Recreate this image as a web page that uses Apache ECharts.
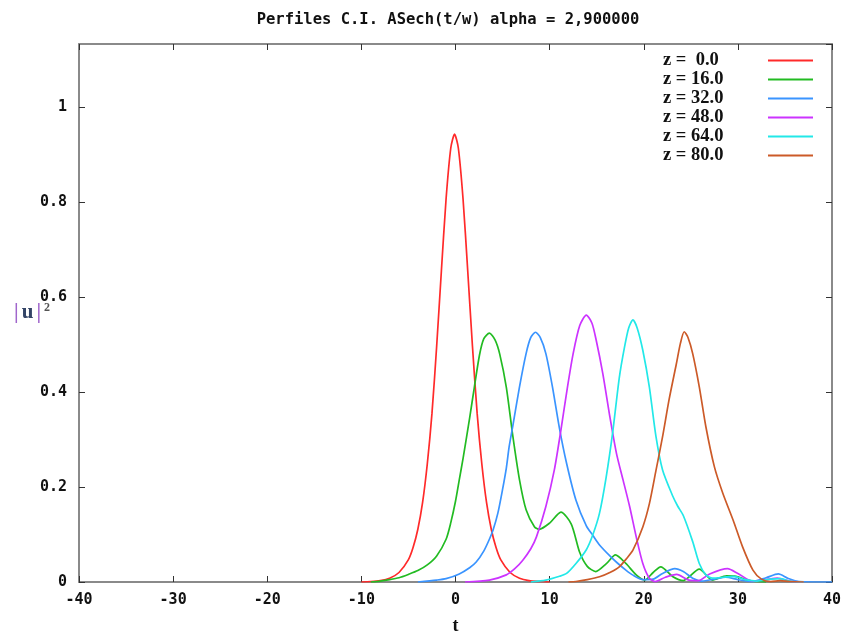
<!DOCTYPE html>
<html>
<head>
<meta charset="utf-8">
<script src="https://cdn.jsdelivr.net/npm/echarts@6/dist/echarts.min.js"></script>
<style>html,body{margin:0;padding:0;background:#fff}#c{width:843px;height:633px}</style>
</head>
<body>
<div id="c"></div>
<script>
const titleText = 'Perfiles C.I. ASech(t/w) alpha = 2,900000';
const seriesNames = ['z =  0.0', 'z = 16.0', 'z = 32.0', 'z = 48.0', 'z = 64.0', 'z = 80.0'];
const seriesColors = ['#ff2a2a', '#22bb22', '#3a94ff', '#cc33ff', '#22e8e8', '#cc5a28'];

const tRed = [-10, -9, -8, -7, -6, -5, -4.5, -4, -3.5, -3, -2.5, -2, -1.5, -1, -0.5, -0.1, 0.3, 0.8, 1.3, 1.8, 2.3, 2.8, 3.3, 3.8, 4.3, 4.8, 5.8, 6.8, 7.8, 9, 10];
const vRed = [0, 0.001, 0.003, 0.008, 0.02, 0.047, 0.073, 0.111, 0.167, 0.248, 0.355, 0.497, 0.655, 0.807, 0.914, 0.943, 0.914, 0.807, 0.655, 0.497, 0.355, 0.248, 0.167, 0.111, 0.073, 0.047, 0.02, 0.008, 0.003, 0.001, 0];

const tGreen = [-9, -8, -7, -6, -5, -4, -3, -2, -1, -0.5, 0, 0.4, 0.8, 1.5, 2.0, 2.55, 3.0, 3.6, 4.2, 4.7, 5.4, 6.1, 6.8, 7.5, 8.4, 8.9, 10.0, 11.2, 12.3, 13.2, 14.0, 14.9, 16.0, 17.0, 18.1, 19.2, 20.1, 21.0, 21.8, 23.1, 24.2, 25.9, 27.3, 28.8, 29.8, 31, 32, 33];
const vGreen = [0, 0.002, 0.005, 0.009, 0.016, 0.024, 0.036, 0.055, 0.09, 0.125, 0.17, 0.215, 0.26, 0.345, 0.41, 0.478, 0.512, 0.524, 0.51, 0.48, 0.41, 0.306, 0.215, 0.152, 0.116, 0.111, 0.124, 0.147, 0.122, 0.062, 0.033, 0.022, 0.038, 0.057, 0.039, 0.015, 0.004, 0.02, 0.032, 0.011, 0.003, 0.027, 0.004, 0.013, 0.012, 0.004, 0.001, 0];

const tBlue = [-4, -2, -1, 0.4, 1.5, 2.2, 3, 3.6, 4.0, 4.5, 5.0, 5.4, 5.7, 6.1, 6.8, 7.5, 8.0, 8.5, 9.0, 9.6, 10.3, 11.05, 11.8, 12.8, 13.9, 14.6, 15.3, 16.4, 17.2, 18.1, 18.8, 19.9, 21, 22, 23.3, 24.2, 25.2, 26.2, 27.5, 28.7, 30, 31.5, 33, 34.3, 35.3, 36.5, 40];
const vBlue = [0, 0.004, 0.007, 0.017, 0.03, 0.042, 0.065, 0.09, 0.11, 0.145, 0.195, 0.24, 0.285, 0.33, 0.411, 0.481, 0.515, 0.526, 0.515, 0.481, 0.411, 0.323, 0.25, 0.172, 0.118, 0.098, 0.078, 0.055, 0.04, 0.025, 0.015, 0.005, 0.006, 0.018, 0.028, 0.022, 0.008, 0.002, 0.006, 0.01, 0.005, 0.001, 0.009, 0.017, 0.008, 0.001, 0];

const tMagenta = [1, 3.6, 5.4, 6.3, 7.15, 8.0, 8.6, 9.6, 10.5, 11.2, 11.9, 12.5, 13.2, 13.9, 14.5, 14.95, 15.65, 16.4, 17.1, 17.8, 18.5, 19.2, 19.9, 20.6, 21.2, 22.3, 23.5, 24.8, 25.8, 27, 28.9, 30, 31.5, 33, 34.2, 35.5, 37];
const vMagenta = [0, 0.004, 0.015, 0.028, 0.046, 0.07, 0.095, 0.159, 0.236, 0.32, 0.411, 0.481, 0.54, 0.562, 0.545, 0.509, 0.439, 0.348, 0.271, 0.215, 0.159, 0.095, 0.039, 0.008, 0.001, 0.01, 0.016, 0.004, 0.003, 0.017, 0.028, 0.018, 0.002, 0.005, 0.008, 0.002, 0];

const tCyan = [8, 9.6, 11.05, 11.8, 12.8, 13.9, 14.6, 15.3, 16.0, 16.7, 17.4, 17.96, 18.4, 18.85, 19.3, 19.9, 20.6, 21.3, 22.0, 23.1, 23.6, 24.2, 25.2, 25.9, 26.6, 27.3, 28.5, 29.5, 30.8, 32, 33.5, 34.5, 35.5, 37];
const vCyan = [0, 0.004, 0.012, 0.018, 0.039, 0.068, 0.1, 0.145, 0.22, 0.315, 0.43, 0.495, 0.535, 0.552, 0.535, 0.488, 0.41, 0.306, 0.236, 0.18, 0.16, 0.14, 0.085, 0.039, 0.015, 0.008, 0.01, 0.012, 0.005, 0.002, 0.006, 0.007, 0.002, 0];

const tOrange = [12, 12.8, 14, 15.3, 16.4, 17.4, 18.2, 18.85, 19.9, 20.6, 21.3, 22.0, 22.7, 23.45, 23.9, 24.3, 24.7, 25.2, 25.9, 26.6, 27.5, 28.4, 29.5, 30.5, 31.6, 32.5, 33.5, 34.5, 35.5, 37];
const vOrange = [0, 0.001, 0.005, 0.011, 0.02, 0.032, 0.05, 0.067, 0.116, 0.165, 0.235, 0.306, 0.385, 0.458, 0.503, 0.527, 0.515, 0.481, 0.411, 0.327, 0.243, 0.187, 0.13, 0.074, 0.025, 0.006, 0.001, 0.003, 0.001, 0];

const xTicks = [-40, -30, -20, -10, 0, 10, 20, 30, 40];
const yTickLabels = ['0', '0.2', '0.4', '0.6', '0.8', '1'];

const allT = [tRed, tGreen, tBlue, tMagenta, tCyan, tOrange];
const allV = [vRed, vGreen, vBlue, vMagenta, vCyan, vOrange];

const monoFont = "'DejaVu Sans Mono', monospace";
const serifFont = "'Liberation Serif', serif";
const borderColor = '#8a8a8a';

const chart = echarts.init(document.getElementById('c'), null, {renderer: 'canvas'});

function yFmt(v) {
  const k = Math.round(v * 5);
  if (Math.abs(v * 5 - k) > 1e-6 || k < 0 || k >= yTickLabels.length) return '';
  return yTickLabels[k];
}

const series = seriesNames.map((name, i) => ({
  name: name,
  type: 'line',
  xAxisIndex: 0,
  yAxisIndex: 0,
  data: allT[i].map((t, j) => [t, allV[i][j]]),
  smooth: 0.25,
  symbol: 'none',
  showSymbol: false,
  clip: true,
  lineStyle: {color: seriesColors[i], width: 1.7},
  itemStyle: {color: seriesColors[i]},
  z: 3 + i
}));

const axisCommon = {
  axisLine: {show: true, onZero: false, lineStyle: {color: borderColor, width: 2}},
  axisTick: {show: true, inside: true, length: 6, lineStyle: {color: '#333', width: 1}},
  splitLine: {show: false}
};

chart.setOption({
  animation: false,
  backgroundColor: '#ffffff',
  title: {
    text: titleText,
    left: 443,
    top: 7,
    textAlign: 'center',
    textStyle: {fontFamily: monoFont, fontWeight: 'bold', fontSize: 15.5, color: '#111'}
  },
  legend: {
    orient: 'vertical',
    left: 663,
    top: 51,
    padding: 0,
    align: 'right',
    icon: 'rect',
    itemWidth: 45,
    itemHeight: 2,
    itemGap: 0,
    data: seriesNames,
    formatter: n => '{a|' + n + '}',
    textStyle: {
      color: '#111',
      rich: {a: {width: 100, align: 'left', fontFamily: serifFont, fontWeight: 'bold', fontSize: 18.5, lineHeight: 19, color: '#111'}}
    }
  },
  grid: {left: 79, right: 11, top: 44, bottom: 51, containLabel: false, outerBoundsMode: 'none'},
  xAxis: [
    Object.assign({}, axisCommon, {
      type: 'value', position: 'bottom', min: -40, max: 40, interval: 10,
      name: 't', nameLocation: 'middle', nameGap: 35, nameMoveOverlap: false,
      nameTextStyle: {fontFamily: serifFont, fontWeight: 'bold', fontSize: 18, color: '#111'},
      axisLabel: {margin: 11, fontFamily: monoFont, fontWeight: 'bold', fontSize: 15, color: '#111'}
    }),
    Object.assign({}, axisCommon, {
      type: 'value', position: 'top', min: -40, max: 40, interval: 10,
      axisLabel: {show: false}
    })
  ],
  yAxis: [
    Object.assign({}, axisCommon, {
      type: 'value', position: 'left', min: 0, max: 1.133, interval: 0.2,
      name: '{p||}{u|u}{p||}{s|2}', nameLocation: 'middle', nameGap: 29, nameRotate: 0, nameMoveOverlap: false,
      nameTextStyle: {
        align: 'right',
        rich: {
          p: {fontFamily: serifFont, fontWeight: 'bold', fontSize: 21, color: '#a066cc'},
          u: {fontFamily: serifFont, fontWeight: 'bold', fontSize: 21, color: '#334466', padding: [0, 3, 0, 3]},
          s: {fontFamily: serifFont, fontWeight: 'bold', fontSize: 12, color: '#555', verticalAlign: 'top', padding: [0, 0, 10, 3]}
        }
      },
      axisLabel: {margin: 12, fontFamily: monoFont, fontWeight: 'bold', fontSize: 15, color: '#111', formatter: yFmt, showMaxLabel: false}
    }),
    Object.assign({}, axisCommon, {
      type: 'value', position: 'right', min: 0, max: 1.133, interval: 0.2,
      axisLabel: {show: false}
    })
  ],
  series: series
});
</script>
</body>
</html>
